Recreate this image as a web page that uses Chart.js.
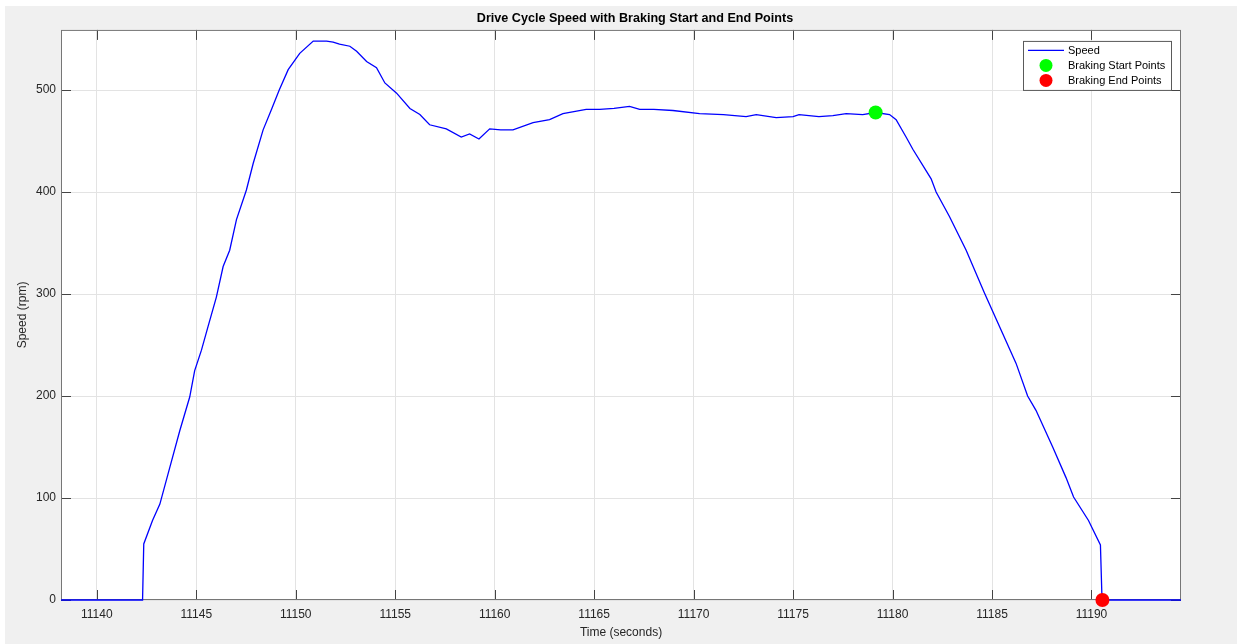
<!DOCTYPE html>
<html>
<head>
<meta charset="utf-8">
<title>Drive Cycle Speed</title>
<script src="https://cdn.jsdelivr.net/npm/chart.js@4.4.0/dist/chart.umd.min.js"></script>
<style>
    html, body { margin: 0; padding: 0; background: #fff; }
    canvas { display: block; }
</style>
</head>
<body>
<canvas id="speedChart" width="1241" height="644"></canvas>
<script>
// Data
const timeValues = [
    11138.2, 11142.3, 11142.36, 11142.8, 11143.17, 11143.67, 11144.17, 11144.67, 11144.92, 11145.26,
    11145.59, 11146.01, 11146.35, 11146.68, 11147.02, 11147.52, 11147.86, 11148.36, 11148.8, 11149.17,
    11149.62, 11150.2, 11150.88, 11151.55, 11151.88, 11152.2, 11152.72, 11153.06, 11153.56, 11154.06,
    11154.48, 11155.07, 11155.74, 11156.24, 11156.73, 11157.57, 11158.32, 11158.74, 11159.21, 11159.75,
    11160.3, 11160.92, 11161.93, 11162.76, 11163.43, 11164.6, 11165.28, 11166.0, 11166.78, 11167.29,
    11168.0, 11168.96, 11170.3, 11171.5, 11172.64, 11173.15, 11174.15, 11175.0, 11175.3, 11176.3,
    11177.0, 11177.67, 11178.5, 11179.15, 11179.85, 11180.18, 11180.68, 11181.02, 11181.94, 11182.19,
    11182.86, 11183.7, 11184.62, 11185.54, 11186.21, 11186.79, 11187.21, 11188.05, 11188.72, 11189.1,
    11189.85, 11190.45, 11190.53, 11194.5
];
const speedValues = [
    0, 0, 55, 78, 94, 130, 166, 199, 225, 245,
    268, 297, 327, 343, 373, 402, 428, 461, 482, 500,
    520, 536, 548, 548, 547, 545, 543, 538, 528, 522,
    507, 497, 482, 476, 466, 462, 454, 457, 452, 462,
    461, 461, 468, 471, 477, 481, 481, 482, 484, 481,
    481, 480, 477, 476, 474, 476, 473, 474, 476, 474,
    475, 477, 476, 478, 476, 471, 454, 442, 413, 400,
    376, 343, 301, 261, 232, 200, 186, 150, 120, 101,
    78, 54, 0, 0
];
const brakeStartTimes = [11179.15];
const brakeStartSpeeds = [478];
const brakeEndTimes = [11190.55];
const brakeEndSpeeds = [0];

const xTicks = [11140, 11145, 11150, 11155, 11160, 11165, 11170, 11175, 11180, 11185, 11190];
const yTicks = [0, 100, 200, 300, 400, 500];

const fontFamily = '"Liberation Sans", Arial, Helvetica, sans-serif';
const textColor = '#262626';

function toPoints(xs, ys) {
    return xs.map((x, i) => ({ x: x, y: ys[i] }));
}

// Figure background, white axes area; title nudged right like the original
const backgroundPlugin = {
    id: 'figureBackground',
    afterLayout(chart) {
        if (chart.titleBlock) {
            chart.titleBlock.left += 14;
            chart.titleBlock.right += 14;
        }
    },
    beforeDraw(chart) {
        const ctx = chart.ctx;
        const a = chart.chartArea;
        ctx.save();
        ctx.fillStyle = '#ffffff';
        ctx.fillRect(0, 0, chart.width, chart.height);
        ctx.fillStyle = '#f0f0f0';
        ctx.fillRect(5, 6, 1232, 638);
        ctx.fillStyle = '#ffffff';
        ctx.fillRect(a.left, a.top, a.right - a.left, a.bottom - a.top);
        ctx.restore();
    }
};

// Box around the axes with inward tick marks on all four sides
const boxPlugin = {
    id: 'axesBox',
    beforeDatasetsDraw(chart) {
        const ctx = chart.ctx;
        const a = chart.chartArea;
        const xs = chart.scales.x;
        const ys = chart.scales.y;
        const len = 10;
        ctx.save();
        ctx.strokeStyle = '#444444';
        ctx.lineWidth = 1;
        ctx.beginPath();
        xTicks.forEach(v => {
            const px = Math.round(xs.getPixelForValue(v)) + 0.5;
            ctx.moveTo(px, a.bottom);
            ctx.lineTo(px, a.bottom - len);
            ctx.moveTo(px, a.top);
            ctx.lineTo(px, a.top + len);
        });
        yTicks.forEach(v => {
            const py = Math.round(ys.getPixelForValue(v)) + 0.5;
            ctx.moveTo(a.left, py);
            ctx.lineTo(a.left + len, py);
            ctx.moveTo(a.right, py);
            ctx.lineTo(a.right - len, py);
        });
        ctx.stroke();
        ctx.strokeStyle = '#767676';
        ctx.strokeRect(a.left + 0.5, a.top + 0.5, a.right - a.left - 1, a.bottom - a.top - 1);
        ctx.restore();
    }
};

// MATLAB style legend box in the upper right corner
const legendPlugin = {
    id: 'boxLegend',
    afterDraw(chart) {
        const ctx = chart.ctx;
        const a = chart.chartArea;
        const boxRight = a.right - 10;
        const boxLeft = boxRight - 148;
        const boxTop = a.top + 11;
        ctx.save();
        ctx.fillStyle = '#ffffff';
        ctx.fillRect(boxLeft, boxTop, 148, 49);
        ctx.strokeStyle = '#5a5a5a';
        ctx.lineWidth = 1;
        ctx.strokeRect(boxLeft + 0.5, boxTop + 0.5, 148, 49);

        const items = chart.data.datasets;
        ctx.font = '11px ' + fontFamily;
        ctx.textBaseline = 'middle';
        items.forEach((ds, i) => {
            const y = boxTop + 9.5 + i * 15;
            if (i === 0) {
                ctx.strokeStyle = ds.borderColor;
                ctx.lineWidth = ds.borderWidth;
                ctx.beginPath();
                ctx.moveTo(boxLeft + 5, y);
                ctx.lineTo(boxLeft + 41, y);
                ctx.stroke();
            } else {
                ctx.fillStyle = ds.backgroundColor;
                ctx.beginPath();
                ctx.arc(boxLeft + 23, y, 6.5, 0, Math.PI * 2);
                ctx.fill();
            }
            ctx.fillStyle = '#000000';
            ctx.fillText(ds.label, boxLeft + 45, y + 1);
        });
        ctx.restore();
    }
};

const speedCanvas = document.getElementById('speedChart');
new Chart(speedCanvas, {
    type: 'line',
    data: {
        datasets: [{
            label: 'Speed',
            data: toPoints(timeValues, speedValues),
            borderColor: '#0000ff',
            borderWidth: 1.3,
            pointRadius: 0,
            tension: 0,
            fill: false,
            clip: 3,
            order: 2
        }, {
            label: 'Braking Start Points',
            data: toPoints(brakeStartTimes, brakeStartSpeeds),
            showLine: false,
            backgroundColor: '#00ff00',
            borderWidth: 0,
            pointRadius: 7,
            clip: false,
            order: 1
        }, {
            label: 'Braking End Points',
            data: toPoints(brakeEndTimes, brakeEndSpeeds),
            showLine: false,
            backgroundColor: '#ff0000',
            borderWidth: 0,
            pointRadius: 7,
            clip: false,
            order: 0
        }]
    },
    options: {
        responsive: false,
        animation: false,
        devicePixelRatio: 1,
        layout: { padding: { top: 0, left: 0, right: 60, bottom: 0 } },
        plugins: {
            legend: { display: false },
            tooltip: { enabled: false },
            title: {
                display: true,
                text: 'Drive Cycle Speed with Braking Start and End Points',
                fullSize: false,
                color: '#000000',
                font: { family: fontFamily, size: 12.6, weight: 'bold', lineHeight: 1.2 },
                padding: { top: 10.8, bottom: 4 }
            }
        },
        scales: {
            x: {
                type: 'linear',
                min: 11138.2,
                max: 11194.5,
                afterFit: scale => { scale.height = 44; },
                afterBuildTicks: scale => { scale.ticks = xTicks.map(v => ({ value: v })); },
                grid: { color: '#e3e3e3', lineWidth: 1, drawTicks: false },
                border: { display: false },
                ticks: {
                    color: textColor,
                    padding: 7,
                    maxRotation: 0,
                    font: { family: fontFamily, size: 12 },
                    callback: v => String(v)
                },
                title: {
                    display: true,
                    text: 'Time (seconds)',
                    color: textColor,
                    font: { family: fontFamily, size: 12 },
                    padding: { top: 0, bottom: 4 }
                }
            },
            y: {
                type: 'linear',
                min: 0,
                max: 559,
                afterFit: scale => { scale.width = 61; },
                afterBuildTicks: scale => { scale.ticks = yTicks.map(v => ({ value: v })); },
                grid: { color: '#e3e3e3', lineWidth: 1, drawTicks: false },
                border: { display: false },
                ticks: {
                    color: textColor,
                    padding: 5,
                    font: { family: fontFamily, size: 12 },
                    callback: v => String(v)
                },
                title: {
                    display: true,
                    text: 'Speed (rpm)',
                    color: textColor,
                    font: { family: fontFamily, size: 12 },
                    padding: { top: 15, bottom: 0 }
                }
            }
        }
    },
    plugins: [backgroundPlugin, boxPlugin, legendPlugin]
});
</script>
</body>
</html>
